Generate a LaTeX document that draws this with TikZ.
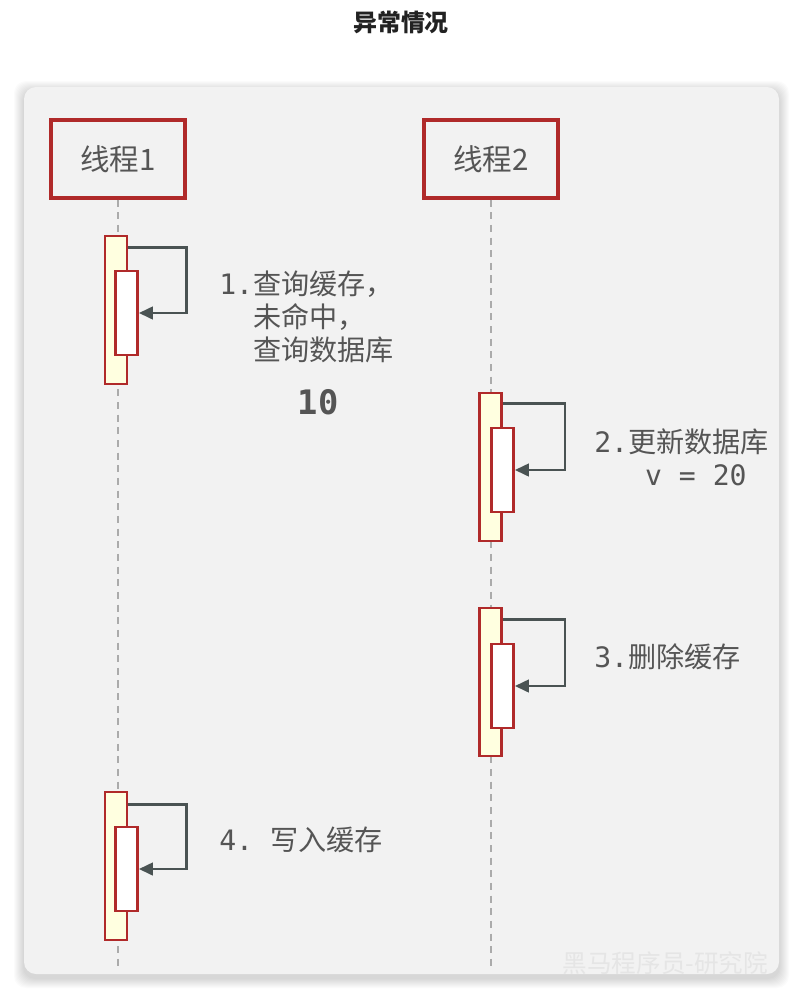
\documentclass[tikz,border=0pt]{standalone}
\usepackage{fontspec}
\setmainfont{Noto Sans CJK SC}
\newfontfamily\mono{DejaVu Sans Mono}
\usetikzlibrary{arrows.meta, positioning}
\definecolor{threadred}{HTML}{B02A2A}
\definecolor{barfill}{HTML}{FFFFE0}
\definecolor{panelgray}{HTML}{F2F2F2}
\definecolor{arrowgray}{HTML}{4A5353}
\definecolor{textgray}{HTML}{555555}
\definecolor{titlegray}{HTML}{222222}
\definecolor{linegray}{HTML}{ABABAB}
\tikzset{
  threadbox/.style={
    rectangle, draw=threadred, line width=2.2pt, fill=panelgray,
    minimum width=3.35cm, minimum height=1.95cm,
    font=\fontsize{21}{24}\selectfont\color{textgray}
  },
  outerbar/.style={
    rectangle, draw=threadred, line width=2pt, fill=barfill,
    minimum width=0.55cm, minimum height=3.7cm, inner sep=0pt
  },
  innerbar/.style={
    rectangle, draw=threadred, line width=2pt, fill=white,
    minimum width=0.55cm, minimum height=2.1cm, inner sep=0pt
  },
  selfarrow/.style={-{Triangle[length=10pt, width=9pt]}, line width=1.8pt, color=arrowgray},
  lifeline/.style={dash pattern=on 5pt off 4pt, line width=1.5pt, color=linegray},
  steptext/.style={
    anchor=west, inner sep=0pt, align=left,
    font=\fontsize{20}{23.4}\selectfont\color{textgray}
  },
}

\begin{document}
\begin{tikzpicture}[x=0.025cm, y=-0.025cm]

  \fill[white] (0,0) rectangle (802,1001);
  \useasboundingbox (0,0) rectangle (802,1001);

  \node[font=\fontsize{17}{20}\selectfont\bfseries, color=titlegray] (title) at (401,22) {异常情况};

  % panel with soft shadow
  \foreach \s in {1,...,10}
    \fill[black, opacity=0.016, rounded corners=0.3cm]
      (24-\s,87-\s+4) rectangle (779+\s,974+\s+4);
  \fill[panelgray, rounded corners=0.3cm] (24,87) rectangle (779,974);
  \node[font=\fontsize{17.5}{20}\selectfont, color=black!10, anchor=east] (brand)
    at (773,963) {黑马程序员-研究院};

  % threads
  \node[threadbox] (t1) at (118,159) {线程1};
  \node[threadbox] (t2) at (491,159) {线程2};

  \coordinate (e1) at (118,968);
  \coordinate (e2) at (491,968);
  \draw[lifeline] (t1.south) -- (e1);
  \draw[lifeline] (t2.south) -- (e2);

  % activations
  \node[outerbar] (a1) at (116,310) {};
  \node[innerbar] (b1) at (126.5,313) {};
  \node[outerbar] (a2) at (490.5,467) {};
  \node[innerbar] (b2) at (502.5,470) {};
  \node[outerbar] (a3) at (490.5,682) {};
  \node[innerbar] (b3) at (502.5,686) {};
  \node[outerbar] (a4) at (116,866) {};
  \node[innerbar] (b4) at (126.5,869) {};

  \draw[selfarrow] ([yshift=-0.325cm]a1.north east) -- ++(58,0) |- (b1.east);
  \draw[selfarrow] ([yshift=-0.3cm]a2.north east) -- ++(62,0) |- (b2.east);
  \draw[selfarrow] ([yshift=-0.325cm]a3.north east) -- ++(62,0) |- (b3.east);
  \draw[selfarrow] ([yshift=-0.35cm]a4.north east) -- ++(58,0) |- (b4.east);

  % labels
  \node[steptext] (m1) at (219,317)
    {{\mono 1.}查询缓存，\\{\mono\phantom{1.}}未命中，\\{\mono\phantom{1.}}查询数据库};
  \node[font=\mono\fontsize{24}{28}\selectfont\bfseries, color=textgray] (v1) at (318,402) {10};
  \node[steptext] (m2) at (594,457)
    {{\mono 2.}更新数据库\\{\mono\phantom{2.\ }v = 20}};
  \node[steptext] (m3) at (594,657) {{\mono 3.}删除缓存};
  \node[steptext] (m4) at (219,840) {{\mono 4.\ }写入缓存};

\end{tikzpicture}
\end{document}
